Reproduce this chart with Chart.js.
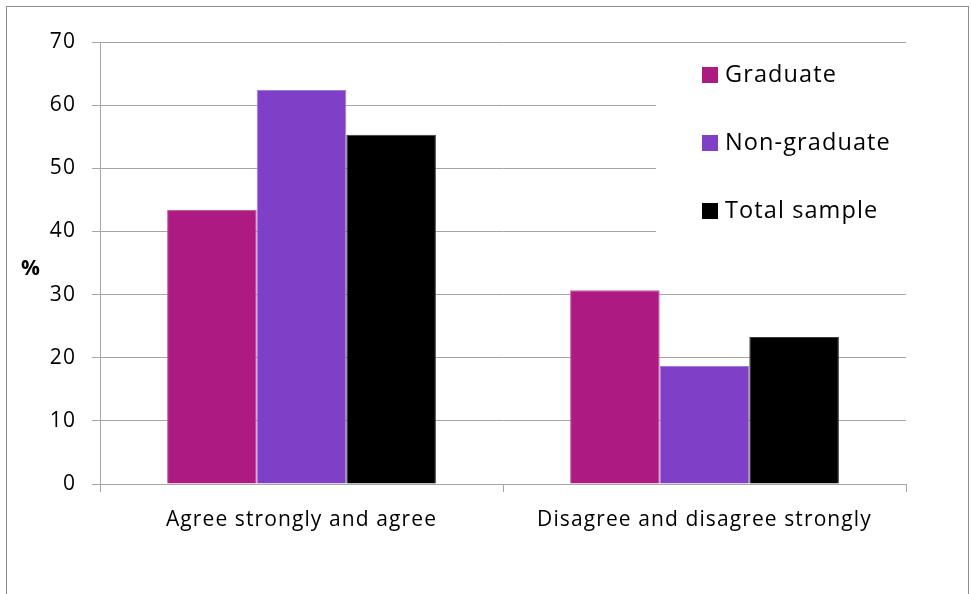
<!DOCTYPE html>
<html>
<head>
<meta charset="utf-8">
<script src="https://cdn.jsdelivr.net/npm/chart.js@4.4.1/dist/chart.umd.min.js"></script>
<style>
    html, body { margin: 0; padding: 0; background: #fff; }
    #frame { position: absolute; left: 6px; top: 6px; width: 961px; height: 600px; border: 1px solid #8c8c8c; }
    canvas { position: absolute; left: 0; top: 0; }
</style>
</head>
<body>
<div id="frame"></div>
<canvas id="chart" width="971" height="594"></canvas>
<script>
    const categories = ['Agree strongly and agree', 'Disagree and disagree strongly'];
    const seriesNames = ['Graduate', 'Non-graduate', 'Total sample'];
    const graduate = [43.4, 30.7];
    const nonGraduate = [62.4, 18.7];
    const totalSample = [55.3, 23.3];
    const yTicks = [0, 10, 20, 30, 40, 50, 60, 70];

    const colors = ['#ad1a82', '#7f3fc6', '#000000'];
    const borders = ['#c95aa8', '#a07ad8', '#3a3a3a'];
    const fontFamily = "'Open Sans', Lato, sans-serif";
    const spacing = '1.1px';

    // the original text is set a bit looser than Open Sans, widen it a little
    const looseText = {
        id: 'looseText',
        beforeLayout(chart) { chart.ctx.letterSpacing = spacing; },
        beforeDraw(chart) { chart.ctx.letterSpacing = spacing; }
    };

    // legend sits inside the plot on a white box, like the spreadsheet original
    const boxLegend = {
        id: 'boxLegend',
        afterDatasetsDraw(chart) {
            const ctx = chart.ctx;
            ctx.save();
            ctx.fillStyle = '#fff';
            ctx.fillRect(656, 45, 254, 192);
            ctx.font = '23.5px ' + fontFamily;
            ctx.textBaseline = 'middle';
            chart.data.datasets.forEach((ds, i) => {
                const y = 75 + i * 68;
                ctx.fillStyle = ds.backgroundColor;
                ctx.fillRect(702, y - 8, 16, 16);
                ctx.fillStyle = '#000';
                ctx.fillText(ds.label, 725, y);
            });
            ctx.restore();
        }
    };

    const yTitle = {
        id: 'yTitle',
        afterDraw(chart) {
            const ctx = chart.ctx;
            ctx.save();
            ctx.font = 'bold 21px ' + fontFamily;
            ctx.fillStyle = '#000';
            ctx.textAlign = 'center';
            ctx.textBaseline = 'middle';
            ctx.fillText('%', 31, 269);
            ctx.restore();
        }
    };

    new Chart(document.getElementById('chart').getContext('2d'), {
        type: 'bar',
        data: {
            labels: categories,
            datasets: [graduate, nonGraduate, totalSample].map((values, i) => ({
                label: seriesNames[i],
                data: values,
                backgroundColor: colors[i],
                borderColor: borders[i],
                borderWidth: 1,
                categoryPercentage: 0.667,
                barPercentage: 1
            }))
        },
        options: {
            responsive: false,
            animation: false,
            layout: { padding: { top: 42, right: 65, left: 0, bottom: 0 } },
            plugins: {
                legend: { display: false },
                tooltip: { enabled: false }
            },
            scales: {
                x: {
                    afterFit: scale => { scale.height = 110; },
                    grid: {
                        offset: true,
                        drawOnChartArea: false,
                        color: '#a6a6a6',
                        tickLength: 8
                    },
                    border: { color: '#a6a6a6' },
                    ticks: {
                        color: '#000',
                        padding: 15,
                        font: { family: fontFamily, size: 21 }
                    }
                },
                y: {
                    min: 0,
                    max: 70,
                    afterFit: scale => { scale.width = 100; },
                    afterBuildTicks: scale => { scale.ticks = yTicks.map(v => ({ value: v })); },
                    grid: { color: '#a6a6a6', tickLength: 8 },
                    border: { color: '#a6a6a6' },
                    ticks: {
                        color: '#000',
                        padding: 16,
                        font: { family: fontFamily, size: 21 }
                    }
                }
            }
        },
        plugins: [looseText, boxLegend, yTitle]
    });
</script>
</body>
</html>
